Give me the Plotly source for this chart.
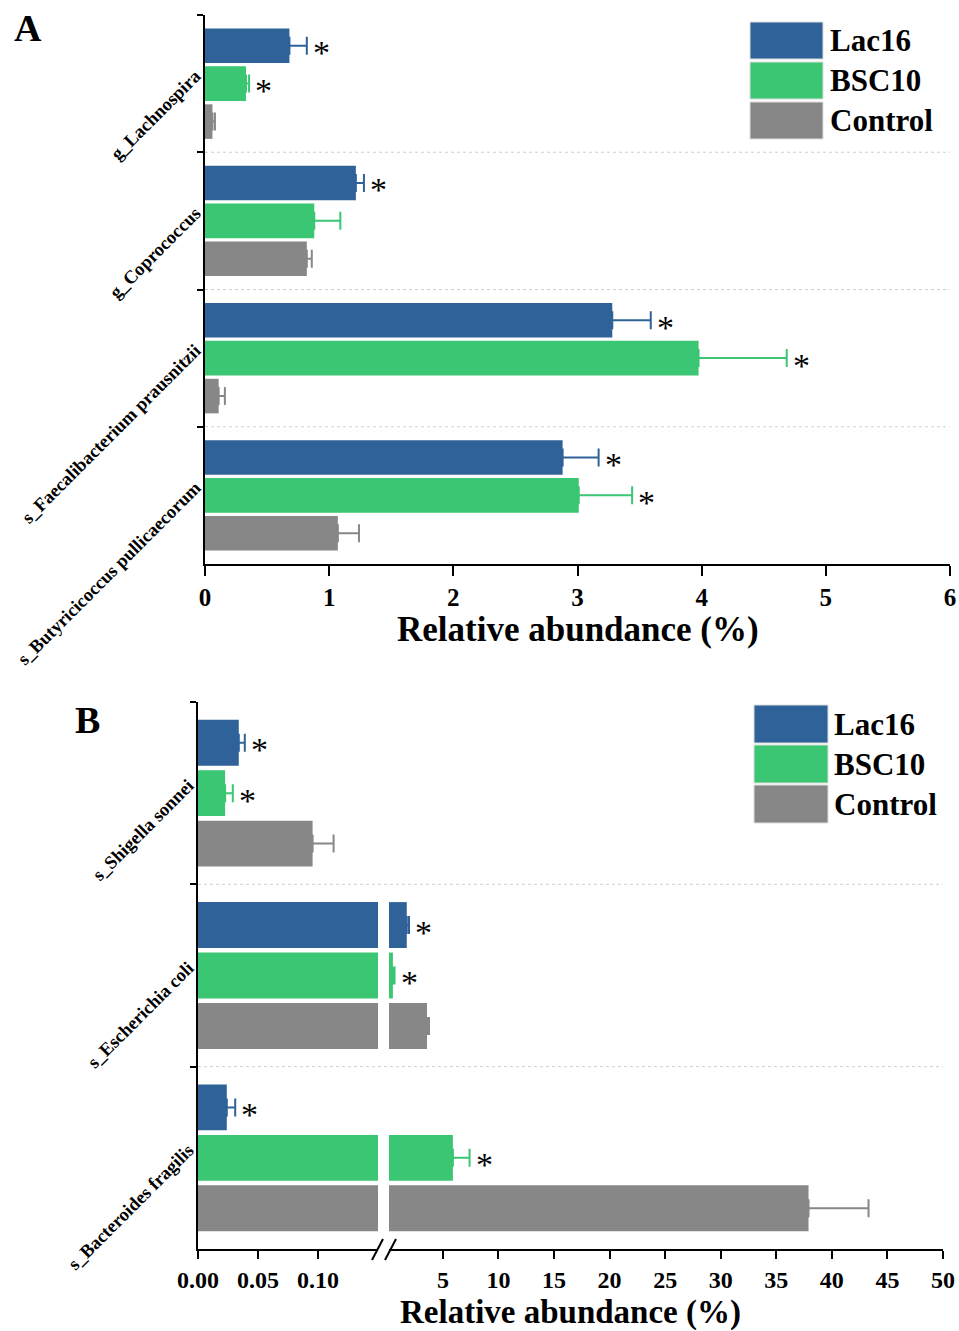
import plotly.graph_objects as go

# ---------------- data ----------------
series = ["Lac16", "BSC10", "Control"]
colors = ["#2F6299", "#3AC672", "#878787"]

groups_A = ["g_Lachnospira", "g_Coprococcus",
            "s_Faecalibacterium prausnitzii", "s_Butyricicoccus pullicaecorum"]
lac16_A = [0.68, 1.215, 3.28, 2.88]
lac16_A_err = [0.14, 0.065, 0.31, 0.29]
bsc10_A = [0.33, 0.88, 3.975, 3.01]
bsc10_A_err = [0.025, 0.21, 0.71, 0.43]
ctrl_A = [0.06, 0.82, 0.11, 1.07]
ctrl_A_err = [0.02, 0.04, 0.05, 0.17]
lac16_A_sig = [True, True, True, True]
bsc10_A_sig = [True, False, True, True]
ctrl_A_sig = [False, False, False, False]

groups_B = ["s_Shigella sonnei", "s_Escherichia coli", "s_Bacteroides fragilis"]
lac16_B = [0.034, 1.75, 0.024]
lac16_B_err = [0.005, 0.2, 0.007]
bsc10_B = [0.0226, 0.5, 5.9]
bsc10_B_err = [0.0064, 0.15, 1.5]
ctrl_B = [0.0955, 3.57, 37.9]
ctrl_B_err = [0.0175, 0.18, 5.4]
lac16_B_sig = [True, True, True]
bsc10_B_sig = [True, True, True]
ctrl_B_sig = [False, False, False]

xticks_A = [0, 1, 2, 3, 4, 5, 6]
xticks_B_left = [0, 0.05, 0.10]
xticks_B_left_text = ["0.00", "0.05", "0.10"]
xticks_B_right = [5, 10, 15, 20, 25, 30, 35, 40, 45, 50]
BREAK = 0.15

# ---------------- layout helpers ----------------
W, H = 959, 1331
def px(x):
    return x / W
def py(y):
    return 1 - y / H

FONT = "Liberation Serif"
BARGAP = 0.17
GROUPGAP = 0.09
slot = (1 - BARGAP) / 3
offsets = [-slot, 0, slot]

fig = go.Figure()

data_A = [(lac16_A, lac16_A_err, lac16_A_sig),
          (bsc10_A, bsc10_A_err, bsc10_A_sig),
          (ctrl_A, ctrl_A_err, ctrl_A_sig)]
data_B = [(lac16_B, lac16_B_err, lac16_B_sig),
          (bsc10_B, bsc10_B_err, bsc10_B_sig),
          (ctrl_B, ctrl_B_err, ctrl_B_sig)]

annotations = []
shapes = []

def star(x, y, xref, yref):
    annotations.append(dict(x=x, y=y, xref=xref, yref=yref,
                            text="*", showarrow=False, xanchor="left",
                            xshift=4, yshift=-7,
                            font=dict(family=FONT, size=34, color="black")))

def err(errs, color):
    return dict(type="data", array=errs, arrayminus=[0] * len(errs),
                symmetric=False, color=color, thickness=2, width=9)

# ---- Panel A ----
for k, (vals, errs, sig) in enumerate(data_A):
    fig.add_trace(go.Bar(
        y=groups_A, x=vals, orientation="h", name=series[k],
        marker=dict(color=colors[k], line=dict(width=0)),
        error_x=err(errs, colors[k]),
        xaxis="x", yaxis="y", showlegend=False))
    for i, (v, e, s) in enumerate(zip(vals, errs, sig)):
        if s:
            star(v + e, i + offsets[k], "x", "y")

# ---- Panel B (broken axis: left x2, right x3) ----
for k, (vals, errs, sig) in enumerate(data_B):
    fig.add_trace(go.Bar(
        y=groups_B, x=vals, orientation="h", name=series[k],
        marker=dict(color=colors[k], line=dict(width=0)),
        error_x=err(errs, colors[k]),
        xaxis="x2", yaxis="y2", showlegend=False))
    right_vals = [v if v > BREAK else None for v in vals]
    fig.add_trace(go.Bar(
        y=groups_B, x=right_vals, orientation="h", name=series[k],
        marker=dict(color=colors[k], line=dict(width=0)),
        error_x=err(errs, colors[k]),
        xaxis="x3", yaxis="y2", showlegend=False))
    for i, (v, e, s) in enumerate(zip(vals, errs, sig)):
        if s:
            star(v + e, i + offsets[k], "x2" if v + e <= BREAK else "x3", "y2")

# separators (dotted) between category groups
for i in range(len(groups_A) - 1):
    shapes.append(dict(type="line", xref="paper", yref="y",
                       x0=px(205), x1=px(950), y0=i + 0.5, y1=i + 0.5,
                       line=dict(color="#cfcfcf", width=1, dash="dot")))
for i in range(len(groups_B) - 1):
    shapes.append(dict(type="line", xref="paper", yref="y2",
                       x0=px(198), x1=px(943), y0=i + 0.5, y1=i + 0.5,
                       line=dict(color="#cfcfcf", width=1, dash="dot")))

# axis break marks
for (x0, x1) in [(372, 383), (385, 396)]:
    shapes.append(dict(type="line", xref="paper", yref="paper",
                       x0=px(x0), x1=px(x1), y0=py(1260), y1=py(1239),
                       line=dict(color="black", width=2)))

# custom legends
def legend(x0, x1, ytops, h, tx):
    for k, yt in enumerate(ytops):
        shapes.append(dict(type="rect", xref="paper", yref="paper",
                           x0=px(x0), x1=px(x1), y0=py(yt + h), y1=py(yt),
                           fillcolor=colors[k], line=dict(color="#dddddd", width=1)))
        annotations.append(dict(x=px(tx), y=py(yt + h / 2), xref="paper", yref="paper",
                                text=series[k], showarrow=False, xanchor="left",
                                yanchor="middle",
                                font=dict(family=FONT, size=31, color="black", weight="bold")))
legend(750, 823, [22, 62, 102], 37, 828)
legend(754, 828, [705, 745, 785], 38, 832)

# panel letters and axis titles
annotations.append(dict(x=px(12), y=py(28), xref="paper", yref="paper", text="A",
                        showarrow=False, xanchor="left", yanchor="middle",
                        font=dict(family=FONT, size=38, color="black", weight="bold")))
annotations.append(dict(x=px(73), y=py(720), xref="paper", yref="paper", text="B",
                        showarrow=False, xanchor="left", yanchor="middle",
                        font=dict(family=FONT, size=38, color="black", weight="bold")))
annotations.append(dict(x=px(578), y=py(629), xref="paper", yref="paper",
                        text="Relative abundance (%)", showarrow=False,
                        xanchor="center", yanchor="middle",
                        font=dict(family=FONT, size=35, color="black", weight="bold")))
annotations.append(dict(x=px(570), y=py(1312), xref="paper", yref="paper",
                        text="Relative abundance (%)", showarrow=False,
                        xanchor="center", yanchor="middle",
                        font=dict(family=FONT, size=33, color="black", weight="bold")))

def xaxis_common(size, ticklen):
    return dict(showline=True, linecolor="black", linewidth=2, ticks="outside",
                ticklen=ticklen, tickwidth=2, tickcolor="black", showgrid=False,
                zeroline=False, automargin=False,
                tickfont=dict(family=FONT, size=size, color="black", weight="bold"))

yaxis_common = dict(type="category", autorange="reversed", showline=True,
                    linecolor="black", linewidth=2, ticks="outside", ticklen=6,
                    tickwidth=2, tickcolor="black", tickson="boundaries",
                    showgrid=False, zeroline=False, tickangle=-45, automargin=False,
                    ticklabelstandoff=4, ticklabelshift=10,
                    tickfont=dict(family=FONT, size=18.5, color="black", weight="bold"))

fig.update_layout(
    width=W, height=H, margin=dict(l=0, r=0, t=0, b=0, autoexpand=False),
    paper_bgcolor="white", plot_bgcolor="white",
    barmode="group", bargap=BARGAP, bargroupgap=GROUPGAP,
    showlegend=False,
    xaxis=dict(domain=[px(205), px(950)], range=[0, 6], anchor="y",
               tickvals=xticks_A, **xaxis_common(25, 10)),
    yaxis=dict(domain=[py(564), py(15)], anchor="x", **yaxis_common),
    xaxis2=dict(domain=[px(198), px(378)], range=[0, BREAK], anchor="y2",
                tickvals=xticks_B_left, ticktext=xticks_B_left_text,
                **xaxis_common(24, 8)),
    xaxis3=dict(domain=[px(389), px(943)], range=[BREAK, 50], anchor="y2",
                tickvals=xticks_B_right, **xaxis_common(24, 8)),
    yaxis2=dict(domain=[py(1249), py(702)], anchor="x2", **yaxis_common),
    annotations=annotations, shapes=shapes,
)

fig.write_html("out.html")
